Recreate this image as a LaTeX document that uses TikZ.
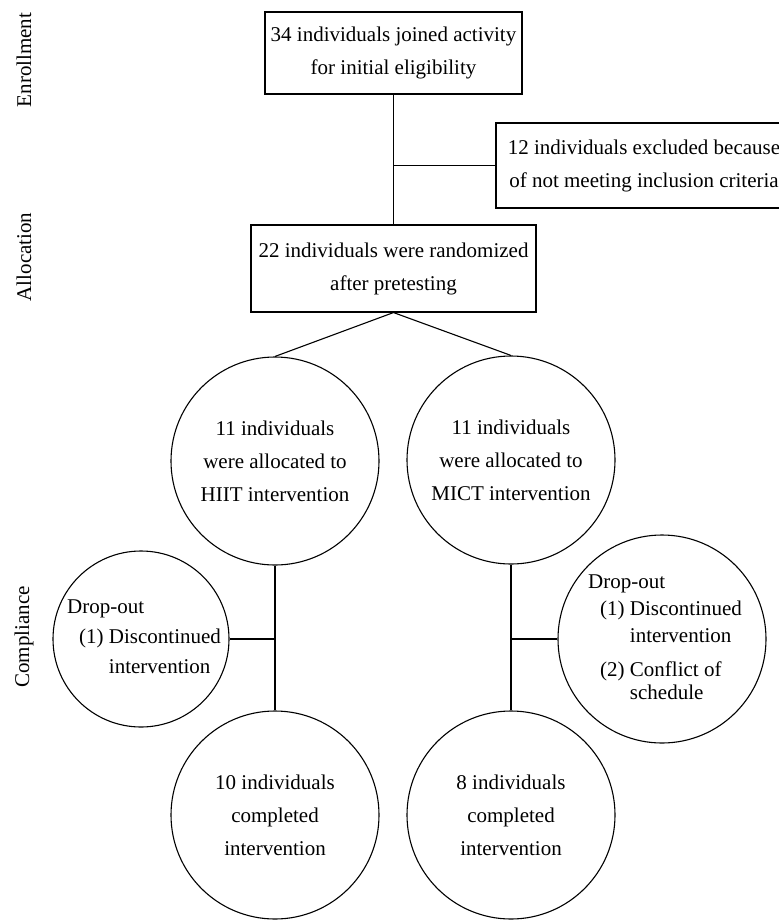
\documentclass[tikz,border=0pt]{standalone}
\usepackage{fontspec}
\setmainfont{Liberation Serif}
\begin{document}
\begin{tikzpicture}[x=1pt,y=-1pt,
  every node/.style={font=\fontsize{21}{33}\selectfont, inner sep=0pt},
  stage/.style={rotate=90},
  flowbox/.style={draw, line width=1.1pt, align=center},
  flowcirc/.style={draw, line width=1.1pt, circle, align=center, minimum size=208pt},
  dropcirc/.style={draw, line width=1.1pt, circle},
  droptext/.style={align=left, anchor=west, font=\fontsize{21}{30}\selectfont},
  link/.style={line width=1.1pt}]
\useasboundingbox (0,0) rectangle (779,921);
% stages
\node[stage] (enrolLab) at (24,60) {Enrollment};
\node[stage] (allocLab) at (24,257) {Allocation};
\node[stage] (complLab) at (24,637) {Compliance};

% enrollment
\node[flowbox, minimum width=257pt, minimum height=82pt] (joined) at (393.5,53) {34 individuals joined activity\\for initial eligibility};
\node[flowbox, minimum width=296pt, minimum height=85pt] (excluded) at (644,165.5) {12 individuals excluded because\\of not meeting inclusion criteria};

% allocation
\node[flowbox, minimum width=285pt, minimum height=87pt] (random) at (393.5,268.5) {22 individuals were randomized\\after pretesting};
\node[flowcirc] (hiit) at (275,461) {11 individuals\\were allocated to\\HIIT intervention};
\node[flowcirc] (mict) at (511,460) {11 individuals\\were allocated to\\MICT intervention};

% compliance
\node[dropcirc, minimum size=176pt] (dropL) at (141,639) {};
\node[droptext] (dropLtxt) at (67,639) {Drop-out\\\hspace*{12pt}(1) Discontinued\\\hspace*{12pt}\phantom{(1) }intervention};
\node[dropcirc, minimum size=208pt] (dropR) at (662,639) {};
\node[droptext, font=\fontsize{21}{27}\selectfont] (dropRtxt) at (588,639) {Drop-out\\\hspace*{12pt}(1) Discontinued\\\hspace*{12pt}\phantom{(1) }intervention\\[7pt]\hspace*{12pt}(2) Conflict of\\[-4pt]\hspace*{12pt}\phantom{(2) }schedule};
\node[flowcirc] (doneL) at (275,815) {10 individuals\\completed\\intervention};
\node[flowcirc] (doneR) at (511,815) {8 individuals\\completed\\intervention};

% connectors
\draw[link] (joined.south) -- (random.north);
\coordinate (exclJoin) at (joined.south |- excluded.west);
\draw[link] (exclJoin) -- (excluded.west);
\draw[link] (random.south) -- (hiit.north);
\draw[link] (random.south) -- (mict.north);
\draw[link] (hiit.south) -- (doneL.north);
\draw[link] (mict.south) -- (doneR.north);
\coordinate (dropLJoin) at (hiit.south |- dropL.east);
\draw[link] (dropLJoin) -- (dropL.east);
\coordinate (dropRJoin) at (mict.south |- dropR.west);
\draw[link] (dropRJoin) -- (dropR.west);
\end{tikzpicture}
\end{document}
